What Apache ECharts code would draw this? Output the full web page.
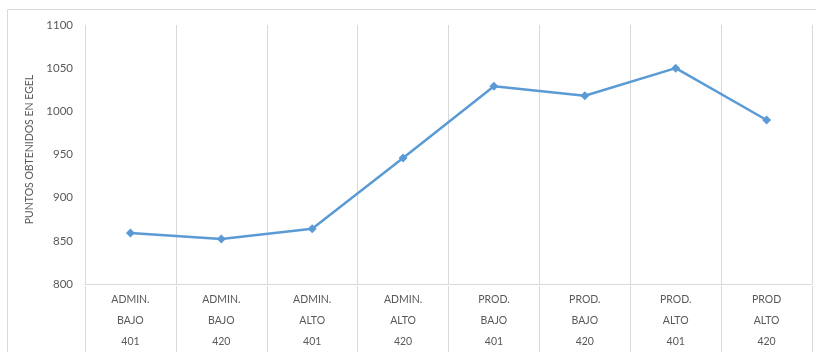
<!DOCTYPE html>
<html>
<head>
<meta charset="utf-8">
<script src="https://cdn.jsdelivr.net/npm/echarts@6/dist/echarts.min.js"></script>
<style>
  html, body { margin: 0; padding: 0; background: #ffffff; }
  #chart { width: 816px; height: 352px; }
</style>
</head>
<body>
<div id="chart"></div>
<script>
// Category label parts (three lines per category)
const areas = ['ADMIN.', 'ADMIN.', 'ADMIN.', 'ADMIN.', 'PROD.', 'PROD.', 'PROD.', 'PROD'];
const levels = ['BAJO', 'BAJO', 'ALTO', 'ALTO', 'BAJO', 'BAJO', 'ALTO', 'ALTO'];
const codes = ['401', '420', '401', '420', '401', '420', '401', '420'];

// Points obtained in EGEL per group
const puntos = [859, 852, 864, 946, 1029, 1018, 1050, 990];

// Value axis ticks
const yMin = 800;
const yMax = 1100;
const yStep = 50;

const categories = areas.map((a, i) => a + '\n' + levels[i] + '\n' + codes[i]);

const gridColor = '#d9d9d9';
const textColor = '#595959';
const fontFamily = 'Lato, "Open Sans", sans-serif';

const chart = echarts.init(document.getElementById('chart'), null, { renderer: 'canvas' });

chart.setOption({
  animation: false,
  backgroundColor: '#ffffff',
  textStyle: { fontFamily: fontFamily },
  graphic: [{
    type: 'rect',
    shape: { x: 7.5, y: 9.5, width: 830, height: 400 },
    style: { fill: 'none', stroke: gridColor, lineWidth: 1 },
    silent: true,
    z: -1
  }],
  grid: [
    { left: 85, right: 4, top: 25, bottom: 66 },
    { left: 85, right: 4, top: 286, bottom: -10 }
  ],
  xAxis: [
    {
      type: 'category',
      gridIndex: 0,
      data: categories,
      boundaryGap: true,
      axisLine: { show: true, lineStyle: { color: gridColor, width: 1 } },
      axisTick: { show: false },
      splitLine: { show: true, lineStyle: { color: gridColor, width: 1 } },
      axisLabel: {
        interval: 0,
        margin: 5,
        color: textColor,
        fontSize: 10.5,
        lineHeight: 21,
        fontFamily: fontFamily
      }
    },
    {
      type: 'category',
      gridIndex: 1,
      data: categories,
      boundaryGap: true,
      axisLine: { show: false },
      axisTick: { show: false },
      axisLabel: { show: false },
      splitLine: { show: true, lineStyle: { color: gridColor, width: 1 } }
    }
  ],
  yAxis: [
    {
      type: 'value',
      gridIndex: 0,
      min: yMin,
      max: yMax,
      interval: yStep,
      axisLine: { show: false },
      axisTick: { show: false },
      splitLine: { show: false },
      axisLabel: {
        color: textColor,
        fontSize: 11.5,
        margin: 12,
        fontFamily: fontFamily,
        formatter: (v) => String(v)
      },
      name: 'PUNTOS OBTENIDOS EN EGEL',
      nameLocation: 'middle',
      nameGap: 40,
      nameTextStyle: { color: textColor, fontSize: 10.5, fontFamily: fontFamily, padding: [0, 0, 0, 10] }
    },
    {
      type: 'value',
      gridIndex: 1,
      show: false
    }
  ],
  series: [{
    type: 'line',
    xAxisIndex: 0,
    yAxisIndex: 0,
    data: puntos,
    symbol: 'diamond',
    symbolSize: 9,
    showSymbol: true,
    lineStyle: { color: '#5b9bd5', width: 2.5 },
    itemStyle: { color: '#5b9bd5' }
  }]
});
</script>
</body>
</html>
